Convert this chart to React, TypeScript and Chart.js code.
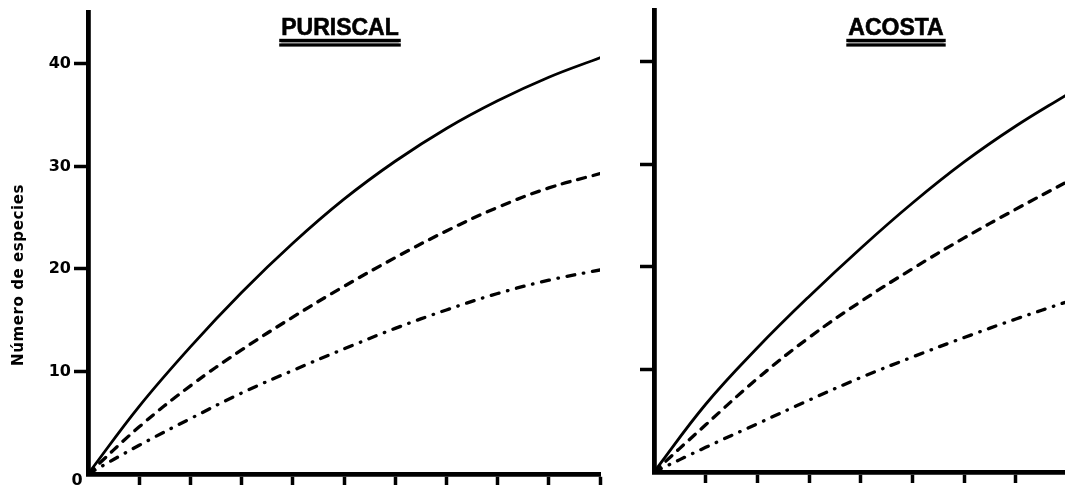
import React, { useEffect, useRef } from "react";
import { Chart, registerables } from "chart.js";

Chart.register(...registerables);

// ---- data ----
const yTickValues = [10, 20, 30, 40];
const puriscalX = [0, 1, 2, 3, 4, 5, 6, 7, 8, 9, 10];
const puriscalSolid = [0, 6.6, 12.4, 17.7, 22.5, 26.8, 30.5, 33.7, 36.4, 38.7, 40.6];
const puriscalDashed = [0, 4.6, 8.6, 12.1, 15.3, 18.3, 21.1, 23.7, 26.0, 27.9, 29.3];
const puriscalDashDot = [0, 2.8, 5.4, 7.9, 10.1, 12.2, 14.2, 16.0, 17.6, 18.9, 19.9];

const acostaX = [0, 1, 2, 3, 4, 5, 6, 7, 8];
const acostaSolid = [0, 6.6, 12.1, 17.1, 21.8, 26.2, 30.2, 33.7, 36.8];
const acostaDashed = [0, 4.6, 9.1, 13.1, 16.6, 19.8, 22.8, 25.6, 28.3];
const acostaDashDot = [0, 2.4, 4.7, 7.0, 9.2, 11.2, 13.1, 14.9, 16.6];

const panelTitles = ["PURISCAL", "ACOSTA"];
const yAxisTitle = "Número de especies";
const originLabel = "0";

const toPoints = (xs: number[], ys: number[]) => xs.map((x, i) => ({ x, y: ys[i] }));

type PanelCfg = {
  title: string;
  titleX: number;
  xs: number[];
  solid: number[];
  dashed: number[];
  dashDot: number[];
  xMax: number;
  yScaleWidth: number;
  xScaleHeight: number;
  padRight: number;
  showYLabels: boolean;
  showYTitle: boolean;
  showOrigin: boolean;
};

const decorPlugin = (cfg: PanelCfg) => ({
  id: "decor",
  afterDraw(chart: any) {
    const ctx = chart.ctx as CanvasRenderingContext2D;
    ctx.save();
    ctx.fillStyle = "#000";
    ctx.font = 'bold 23px "Liberation Sans", Arial, sans-serif';
    ctx.textAlign = "center";
    ctx.textBaseline = "alphabetic";
    ctx.fillText(cfg.title, cfg.titleX, 35);
    ctx.lineWidth = 0.6;
    ctx.strokeStyle = "#000";
    ctx.strokeText(cfg.title, cfg.titleX, 35);
    const w = ctx.measureText(cfg.title).width;
    const lx = cfg.titleX - w / 2 - 2;
    ctx.fillRect(lx, 38.8, w + 4, 3.4);
    ctx.fillStyle = "#8a8a8a";
    ctx.fillRect(lx + 2, 42.2, w, 1.2);
    ctx.fillStyle = "#000";
    ctx.fillRect(lx, 43.4, w + 4, 3.2);

    if (cfg.showOrigin) {
      const xs = chart.scales.x;
      const ys = chart.scales.y;
      ctx.font = 'bold 16px "DejaVu Sans", sans-serif';
      ctx.textAlign = "center";
      ctx.textBaseline = "middle";
      ctx.fillText(originLabel, xs.getPixelForValue(0) - 11, ys.getPixelForValue(0) + 7);
    }
    if (cfg.showYTitle) {
      ctx.translate(19, 275);
      ctx.rotate(-Math.PI / 2);
      ctx.font = 'bold 15px "DejaVu Sans", sans-serif';
      (ctx as any).letterSpacing = "0.6px";
      ctx.textAlign = "center";
      ctx.textBaseline = "middle";
      ctx.fillText(yAxisTitle, 0, 0);
    }
    ctx.restore();
  },
});

function buildChart(canvas: HTMLCanvasElement, cfg: PanelCfg) {
  const common = {
    pointRadius: 0,
    borderColor: "#000",
    backgroundColor: "#000",
    fill: false,
    tension: 0.4,
    borderCapStyle: "round" as const,
  };
  return new Chart(canvas, {
    type: "line",
    data: {
      datasets: [
        { ...common, data: toPoints(cfg.xs, cfg.solid), borderWidth: 2.8 },
        { ...common, data: toPoints(cfg.xs, cfg.dashed), borderWidth: 3.3, borderDash: [8, 8] },
        { ...common, data: toPoints(cfg.xs, cfg.dashDot), borderWidth: 3.3, borderDash: [8, 8.75, 0.5, 8.75] },
      ],
    },
    options: {
      animation: false,
      responsive: false,
      events: [],
      layout: { padding: { top: 10, right: cfg.padRight, left: 0, bottom: 0 } },
      plugins: { legend: { display: false }, tooltip: { enabled: false }, title: { display: false } },
      scales: {
        x: {
          type: "linear",
          min: 0,
          max: cfg.xMax,
          afterBuildTicks: (scale: any) => {
            scale.ticks = cfg.xs.filter((v) => v <= cfg.xMax).map((v) => ({ value: v }));
          },
          afterFit: (scale: any) => {
            scale.height = cfg.xScaleHeight;
          },
          ticks: { display: false },
          grid: {
            drawOnChartArea: false,
            drawTicks: true,
            tickLength: 11,
            tickWidth: 3.5,
            color: "#000",
            tickColor: (c: any) => (c.tick && c.tick.value === 0 ? "rgba(0,0,0,0)" : "#000"),
          },
          border: { display: true, width: 4.8, color: "#000" },
        },
        y: {
          type: "linear",
          min: 0,
          max: 45,
          afterBuildTicks: (scale: any) => {
            scale.ticks = yTickValues.map((v) => ({ value: v }));
          },
          afterFit: (scale: any) => {
            scale.width = cfg.yScaleWidth;
          },
          ticks: {
            display: cfg.showYLabels,
            color: "#000",
            padding: 3,
            font: { family: '"DejaVu Sans", sans-serif', size: 16, weight: "bold" },
            callback: (v: any) => String(v),
          },
          grid: {
            drawOnChartArea: false,
            drawTicks: true,
            tickLength: 14,
            tickWidth: 3.5,
            color: "#000",
            tickColor: "#000",
          },
          border: { display: true, width: 4.8, color: "#000" },
        },
      },
    },
    plugins: [decorPlugin(cfg)],
  } as any);
}

export default function App() {
  const leftRef = useRef<HTMLCanvasElement | null>(null);
  const rightRef = useRef<HTMLCanvasElement | null>(null);

  useEffect(() => {
    const left = buildChart(leftRef.current!, {
      title: panelTitles[0],
      titleX: 340,
      xs: puriscalX,
      solid: puriscalSolid,
      dashed: puriscalDashed,
      dashDot: puriscalDashDot,
      xMax: 10,
      yScaleWidth: 88,
      xScaleHeight: 17,
      padRight: 30,
      showYLabels: true,
      showYTitle: true,
      showOrigin: true,
    });
    const right = buildChart(rightRef.current!, {
      title: panelTitles[1],
      titleX: 266,
      xs: acostaX,
      solid: acostaSolid,
      dashed: acostaDashed,
      dashDot: acostaDashDot,
      xMax: 7.95,
      yScaleWidth: 24,
      xScaleHeight: 19,
      padRight: 0,
      showYLabels: false,
      showYTitle: false,
      showOrigin: false,
    });
    return () => {
      left.destroy();
      right.destroy();
    };
  }, []);

  return (
    <div style={{ position: "absolute", left: 0, top: 0, width: 1065, height: 491, background: "#fff", overflow: "hidden" }}>
      <canvas ref={leftRef} width={630} height={491} style={{ position: "absolute", left: 0, top: 0 }} />
      <canvas ref={rightRef} width={435} height={491} style={{ position: "absolute", left: 630, top: 0 }} />
    </div>
  );
}
